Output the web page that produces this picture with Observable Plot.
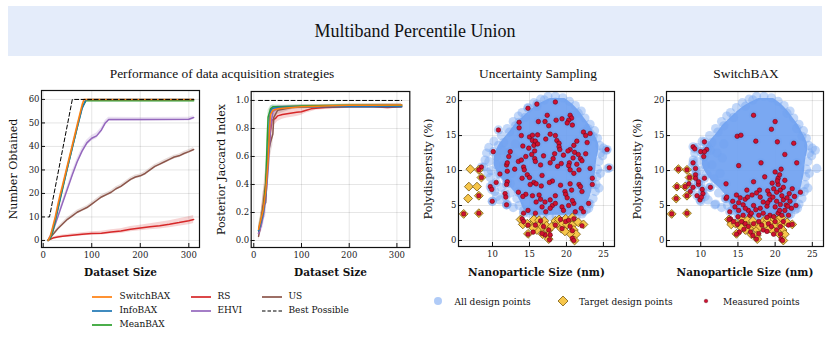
<!DOCTYPE html>
<html><head><meta charset="utf-8">
<script src="https://cdn.jsdelivr.net/npm/d3@7"></script>
<script src="https://cdn.jsdelivr.net/npm/@observablehq/plot@0.6"></script>
<style>
html,body{margin:0;padding:0;background:#fff;}
#root{position:relative;width:830px;height:338px;overflow:hidden;}
.abs{position:absolute;}
#banner{left:8px;top:6px;width:814px;height:50px;background:#e4ecfa;}
#title{position:absolute;left:0;top:0;width:100%;height:100%;display:flex;align-items:center;justify-content:center;font-family:"Liberation Serif",serif;font-size:18px;color:#111;}
.sub{font-family:"Liberation Serif",serif;font-size:13.4px;color:#111;transform:translate(-50%,-50%);white-space:nowrap;}
.leg{font-family:"DejaVu Serif",serif;font-size:9px;color:#111;white-space:nowrap;transform:translateY(-50%);}
.sw{transform:translate(-50%,-50%);}
</style></head>
<body><div id="root"></div>
<script>
// ---------- DATA ----------
const figureTitle = "Multiband Percentile Union";
const panelTitles = ["Performance of data acquisition strategies", "Uncertainty Sampling", "SwitchBAX"];
const seriesNames = ["SwitchBAX","InfoBAX","MeanBAX","RS","EHVI","US"];
const seriesColors = ["#ff7f0e","#1f77b4","#2ca02c","#d62728","#9467bd","#8c564b"];
const drawOrder = ["RS","US","EHVI","MeanBAX","InfoBAX","SwitchBAX"];
const bestLabel = "Best Possible";
const scatterLegend = ["All design points","Target design points","Measured points"];

// Panel 1: Number Obtained  [datasetSize, value, spread]
const numSwitchBAX = [[10,0,0.2],[15,2,0.5],[20,6,0.8],[25,10,1],[30,15,1],[35,19.5,1],[40,23.5,1],[50,32,1],[60,40.5,1],[70,49,1],[80,57.5,0.8],[84,60,0.2],[120,60,0],[200,60,0],[310,60,0]];
const numInfoBAX = [[10,0,0.2],[15,1.5,0.5],[20,5,0.8],[25,9,1],[30,13.5,1],[35,18,1],[40,22.5,1],[50,31,1],[60,39.5,1],[70,48,1],[80,56,0.8],[87,59.5,0.3],[92,60,0],[200,60,0],[310,60,0]];
const numMeanBAX = [[10,0,0.2],[15,1,0.5],[20,4,0.8],[25,8.5,1],[30,13,1],[35,17.5,1],[40,22,1],[50,31,1],[60,39.5,1],[70,48,1],[80,56.5,0.8],[88,59.4,0.3],[200,59.4,0.2],[310,59.4,0.2]];
const numRS = [[10,0,0.2],[20,1,0.4],[30,1.5,0.5],[40,1.8,0.5],[60,2.2,0.6],[80,2.6,0.7],[100,3,0.7],[120,3.1,0.8],[140,3.6,0.9],[160,4,1],[180,4.8,1.1],[200,5.3,1.2],[220,5.8,1.3],[240,6.3,1.4],[260,6.9,1.5],[280,7.6,1.6],[300,8.4,1.7],[310,8.9,1.7]];
const numEHVI = [[10,0,0.3],[20,4,0.8],[30,10,1],[40,16,1.2],[50,22,1.3],[60,28,1.4],[70,33.5,1.4],[80,38,1.3],[90,41.5,1.2],[100,43.5,1.2],[110,44.5,1.2],[120,47,1.1],[128,50,1],[135,51.5,0.9],[200,51.5,0.8],[300,51.6,0.8],[310,52.3,0.8]];
const numUS = [[10,0,0.3],[20,2.5,0.5],[30,5,0.6],[40,7,0.7],[50,9,0.8],[60,10.5,0.8],[70,12,0.8],[80,13,0.8],[90,14,0.8],[100,15.5,0.8],[110,17,0.8],[120,18.5,0.8],[130,19.5,0.8],[140,20.5,0.8],[150,22,0.8],[160,23,0.8],[170,24.5,0.8],[180,26,0.8],[190,27,0.8],[200,27.5,0.8],[210,28.5,0.8],[220,30,0.8],[230,31.5,0.8],[240,32.5,0.8],[250,33.5,0.8],[260,34.5,0.8],[270,35.5,0.8],[280,36,0.8],[290,37,0.8],[300,37.8,0.8],[310,38.7,0.8]];
const numBest = [[10,10],[13,10],[60,60],[310,60]];

// Panel 2: Posterior Jaccard Index  [datasetSize, value, spread]
const jacSwitchBAX = [[10,0.08,0.03],[15,0.15,0.05],[20,0.22,0.08],[25,0.35,0.1],[30,0.57,0.1],[33,0.8,0.06],[35,0.9,0.04],[40,0.93,0.02],[50,0.94,0.015],[60,0.945,0.01],[80,0.95,0.01],[100,0.955,0.01],[150,0.96,0.01],[200,0.965,0.01],[250,0.965,0.01],[310,0.967,0.01]];
const jacInfoBAX = [[10,0.07,0.03],[15,0.13,0.05],[20,0.2,0.08],[25,0.33,0.1],[30,0.6,0.1],[33,0.88,0.05],[36,0.93,0.03],[40,0.945,0.02],[50,0.95,0.01],[100,0.955,0.01],[200,0.955,0.01],[310,0.955,0.01]];
const jacMeanBAX = [[10,0.07,0.03],[15,0.14,0.05],[20,0.22,0.08],[25,0.4,0.1],[28,0.7,0.1],[30,0.88,0.05],[35,0.94,0.02],[40,0.955,0.015],[60,0.955,0.01],[100,0.96,0.01],[200,0.965,0.01],[310,0.965,0.01]];
const jacRS = [[10,0.05,0.03],[15,0.12,0.06],[20,0.25,0.1],[25,0.4,0.12],[30,0.6,0.12],[35,0.78,0.08],[38,0.86,0.05],[45,0.87,0.04],[50,0.89,0.04],[60,0.9,0.035],[70,0.905,0.03],[80,0.91,0.03],[90,0.915,0.03],[100,0.92,0.025],[110,0.93,0.02],[120,0.94,0.02],[130,0.945,0.015],[150,0.95,0.015],[200,0.955,0.01],[250,0.955,0.01],[280,0.95,0.01],[310,0.955,0.01]];
const jacEHVI = [[10,0.05,0.03],[15,0.1,0.05],[20,0.18,0.08],[25,0.3,0.1],[30,0.5,0.12],[35,0.8,0.08],[40,0.92,0.03],[50,0.945,0.02],[80,0.955,0.01],[150,0.96,0.01],[310,0.97,0.01]];
const jacUS = [[10,0.03,0.03],[15,0.12,0.06],[20,0.25,0.1],[25,0.27,0.1],[30,0.62,0.12],[35,0.7,0.1],[40,0.76,0.08],[42,0.88,0.05],[50,0.93,0.03],[80,0.95,0.015],[150,0.96,0.01],[310,0.96,0.01]];
const jacBest = [[10,1],[310,1]];

// Tick values
const sizeTicks = [0,100,200,300];
const numTicks = [0,10,20,30,40,50,60];
const jacTicks = [0,0.2,0.4,0.6,0.8,1.0];
const npTicks = [10,15,20,25];
const pdTicks = [0,5,10,15,20];

// All design points: dense core envelope [polydispersity, left size, right size]
const cloudCore = [[3.6,15,21.6],[4.5,14.2,22.4],[5.5,13.8,22.9],[6.5,13.3,23.3],[7.5,12.5,23.5],[8.5,11.5,23.7],[9.5,10.8,23.9],[10.5,10.3,24.0],[11.5,10.2,24.1],[12.5,10.4,24.3],[13.5,10.8,24.4],[14.5,11.5,24.1],[15.5,12.3,23.6],[16.5,13.0,23.1],[17.5,14.0,22.4],[18.5,15.0,21.7],[19.5,16.3,20.8],[20.3,17.8,19.8]];
// All design points: sparse individual points around the core [size, polydispersity]
const cloudFringe = [[8.8,10.5],[9.0,11.5],[9.2,12.5],[9.5,13.3],[9.8,10],[9.7,9],[10,8],[10.3,7],[10.6,6.3],[11,5.8],[12,5.2],[12.8,4.7],[10.5,12],[10.2,14.2],[10.8,13.6],[11.2,15],[11.5,14],[12,16],[12.3,15.5],[12.8,17],[13.5,17.8],[14,18.3],[14.8,19],[15.6,19.7],[16.5,20.2],[17.5,20.6],[18.5,20.6],[19.5,20.4],[20.4,19.9],[21.2,19.3],[22,18.5],[22.5,17.5],[23.2,16.6],[23.8,15.7],[24.2,14.6],[24.5,13.6],[25,13.2],[24.6,12.5],[24.4,11.3],[24.2,10.2],[24.1,9.1],[24,8],[23.9,7],[23.6,6],[23.2,5.2],[22.7,4.4],[22.1,3.8],[21.3,3.4],[20.4,3.3],[19.5,3.4],[18.6,3.5],[17.7,3.5],[16.8,3.5],[15.9,3.6],[15,3.9],[14.2,4.3],[13.6,5],[13.3,6],[12.4,6.8],[11.2,7.6],[11.8,8.8],[10.8,9.5],[12.6,9.6],[11.5,10.8],[9.5,11.3],[12.2,12.5],[13.1,13.8],[12.9,11.8],[25.6,10.3],[10.0,5.6],[11.9,5.1],[25.4,12.9],
 [13.1,16.4],[14.4,17.6],[16.0,19.2],[17.0,20.1],[21.6,18.2],[22.9,16.0],[23.6,14.9],[24.9,12.1],[24.6,9.6],[24.4,7.5],[23.0,4.6],[21.8,4.2],[12.4,8.1],[11.3,12.9],[10.6,10.8],[9.4,9.7]];
// Target design points [size, polydispersity]
const targets = [[7.0,10.2],[8.15,10.1],[8.5,9.0],[6.8,7.7],[7.9,7.7],[6.7,6.0],[8.15,6.4],[6.1,3.8],[8.15,3.9],
 [13.8,3.0],[14.1,2.3],[14.8,0.95],[15.3,2.3],[15.6,3.0],[16.3,2.9],[16.2,2.1],[16.6,1.8],[16.0,1.5],[17.0,2.8],[17.3,2.1],[16.8,0.9],[17.6,1.5],[17.5,0.7],[18.0,2.0],[18.5,2.8],[18.7,2.4],[19.0,3.0],[19.3,1.7],[19.5,2.4],[19.9,3.1],[20.1,2.3],[20.5,2.9],[20.8,2.2],[21.0,1.5],[21.3,0.9],[21.1,0.0],[21.6,2.6],[22.3,2.3],[20.5,1.0],[19.8,1.3],[17.6,0.2],[15.5,1.8],[14.7,2.4],[20.8,3.3]];
// Uncertainty Sampling measured points [size, polydispersity]
const usMeasured = [[18.5,19.8],[16.0,19.5],[14.8,18.9],[17.4,17.9],[16.2,17.0],[17.1,17.0],[18.6,17.2],[19.4,17.4],[20.5,17.9],[20.7,17.5],[20.3,17.2],[20.1,16.8],[13.6,16.9],[13.6,16.1],[10.8,15.8],[13.9,15.0],[15.0,14.8],[15.4,15.05],[16.1,15.1],[17.8,15.2],[15.4,14.3],[15.8,14.2],[17.2,14.5],[18.5,15.0],[18.7,14.3],[19.0,13.9],[19.0,13.4],[19.1,13.0],[18.4,12.4],[18.2,11.7],[17.8,11.1],[14.9,13.2],[15.6,13.6],[15.7,12.8],[15.3,12.3],[15.7,11.7],[16.9,12.1],[15.8,11.3],[22.3,15.5],[23.2,15.3],[21.4,14.2],[22.8,14.0],[21.0,13.6],[20.5,13.0],[20.2,12.8],[21.1,12.6],[21.6,12.3],[21.9,11.7],[20.4,11.1],[22.1,11.4],[21.4,10.9],[25.5,13.0],[25.8,10.4],[10.1,12.7],[12.4,12.7],[12.2,12.0],[13.5,11.3],[13.9,11.5],[14.2,10.5],[11.9,10.8],[20.3,10.7],[23.2,10.3],[8.5,10.5],
 [17.6,16.4],[20.8,16.5],[22.6,15.0],[19.6,12.2],[20.9,11.8],[14.5,12.0],[16.5,10.8],[19.3,11.0],[22.6,12.4],[13.0,10.2],[12.0,9.9],[18.8,10.6],[21.7,10.1],[16.1,13.8],[14.1,13.5],[12.0,11.1],[11.0,9.5],
 [10.5,8.3],[9.7,7.7],[9.96,5.6],[12.0,8.4],[11.9,8.0],[11.7,6.7],[11.8,6.2],[14.0,8.9],[14.3,10.1],[14.7,9.4],[15.6,8.3],[15.9,8.1],[15.1,8.0],[16.6,7.8],[16.7,9.3],[18.1,8.5],[17.7,8.3],[19.2,7.9],[20.5,10.1],[21.0,9.6],[20.5,8.1],[21.7,8.0],[21.9,7.7],[23.5,8.9],[23.5,8.0],[19.8,7.0],[19.9,6.6],[20.1,6.1],[20.7,7.2],[22.1,7.0],[13.5,6.9],[14.5,6.6],[15.4,6.4],[16.3,6.5],[16.5,5.9],[15.9,5.5],[17.1,5.5],[17.8,5.8],[18.1,5.0],[17.8,4.6],[16.7,4.8],[17.2,4.1],[18.5,5.3],[15.8,3.9],[14.8,4.3],[14.2,3.9],[19.4,4.8],[19.6,4.3],[20.3,5.0],[21.0,5.3],[22.0,4.6],[21.2,4.1],[23.0,5.3],[22.3,4.1],[11.9,5.1],[9.9,7.3],[14.1,6.3],[15.0,9.0],[18.5,6.4],[20.8,5.7]];
const usMeasuredTargets = [[14.0,3.1],[14.2,2.7],[14.8,2.2],[14.8,0.9],[15.8,2.2],[16.5,2.8],[16.9,2.0],[17.6,1.5],[17.1,0.8],[17.8,0.8],[17.7,0.1],[18.5,2.2],[19.4,1.7],[19.9,2.7],[20.3,2.9],[20.5,2.0],[20.8,1.4],[20.8,0.3],[21.0,3.1],[22.1,2.1],[19.2,3.0],[15.5,1.2],[16.7,1.0],[21.0,0.0],[8.15,10.1],[8.5,9.0],[8.15,6.4],[6.1,3.8],[8.15,3.9]];
// SwitchBAX measured points [size, polydispersity]
const sbMeasured = [[17.1,17.9],[20.0,17.0],[19.5,15.9],[14.9,14.9],[15.4,15.05],[17.4,14.2],[20.3,14.1],[22.5,13.9],[10.5,14.1],[8.97,13.4],[9.2,13.1],[10.8,13.0],[10.0,12.7],[10.5,12.7],[10.4,12.0],[21.3,12.3],[18.1,11.1],[22.9,11.1],[8.97,11.1],[15.1,10.7],[9.3,10.3],[11.3,7.6],[13.4,8.1],[13.4,6.0],
 [9.3,9.4],[8.4,8.1],[8.97,7.6],[8.6,7.0],[9.7,8.0],[10.2,7.3],[9.5,6.4],[9.9,5.8],[10.3,6.7],[10.5,8.9],[9.7,8.4],[9.3,8.9],[10.1,6.2],
 [13.5,6.2],[15.1,5.4],[15.98,5.9],[16.2,7.2],[16.9,6.5],[17.1,8.4],[17.9,7.2],[18.0,6.2],[18.4,5.5],[19.2,6.6],[19.3,5.8],[19.8,7.4],[20.4,8.9],[20.4,8.0],[20.7,7.2],[20.2,6.9],[20.9,6.4],[21.1,5.8],[20.7,5.14],[21.5,5.05],[22.0,5.6],[21.9,6.7],[22.2,4.6],[21.3,4.3],[20.0,4.8],[18.9,4.9],[18.0,4.6],[17.1,5.0],[16.4,4.3],[15.7,5.1],[15.1,4.3],[14.6,4.8],[13.9,4.1],[15.7,3.6],[16.6,3.6],[17.8,3.6],[18.4,3.9],[19.3,3.6],[20.4,3.9],[20.9,3.6],[21.8,3.6],
 [20.6,9.4],[20.3,8.5],[19.6,8.2],[21.1,7.6],[19.0,7.1],[17.5,6.8],[16.3,6.2],[14.3,5.6],[19.7,6.2],[21.6,6.1],[22.6,6.3],[20.2,5.6],[19.0,5.4],[17.4,4.4],[16.0,4.6],[21.7,4.9],[22.8,5.0],[23.4,6.9],[22.3,7.4],[14.8,6.5],[18.6,9.1],[20.0,9.8],[21.3,8.6],[20.8,10.2],[15.3,6.1],[16.8,3.9],[20.6,4.3],[19.8,3.4],[18.9,3.3],[15.0,3.4]];
const sbMeasuredTargets = [[7.0,10.2],[8.15,10.1],[8.5,9.0],[6.8,7.7],[7.9,7.7],[6.7,6.0],[8.15,6.4],[6.1,3.8],[8.15,3.9],
 [14.0,3.1],[14.4,2.7],[14.9,2.3],[15.5,2.7],[15.98,2.4],[16.4,2.0],[15.8,1.6],[16.7,1.2],[17.1,2.4],[17.8,2.7],[18.2,2.2],[18.4,1.5],[17.8,1.0],[17.0,0.7],[17.5,0.2],[19.1,2.4],[19.5,2.0],[20.0,2.7],[20.2,1.5],[20.7,2.0],[20.7,0.9],[20.8,0.2],[21.1,2.7],[21.8,2.2],[19.8,0.9],[18.9,1.3],[15.2,1.2],[14.8,0.9],[21.0,0.0],[22.3,2.3],[13.8,3.0]];

// ---------- STYLE ----------
const BLUE = "#6fa1f1", GOLD = "#f7c64a", GOLD_STROKE = "#7a5a10", RED = "#cf1030", RED_STROKE = "#5a0010";
const root = document.getElementById("root");

function place(el, left, top){ const d=document.createElement("div"); d.className="abs"; d.style.left=left+"px"; d.style.top=top+"px"; d.appendChild(el); root.appendChild(d); return d; }
function textAt(txt, cls, left, top){ const d=document.createElement("div"); d.className="abs "+cls; d.style.left=left+"px"; d.style.top=top+"px"; d.textContent=txt; root.appendChild(d); return d; }

// Banner
const banner = document.createElement("div"); banner.id="banner"; banner.className="abs";
const t = document.createElement("div"); t.id="title"; t.textContent = figureTitle; banner.appendChild(t); root.appendChild(banner);
textAt(panelTitles[0], "sub", 222, 73.5);
textAt(panelTitles[1], "sub", 538, 73.5);
textAt(panelTitles[2], "sub", 746, 73.5);

const tables = {
  num: {SwitchBAX:numSwitchBAX, InfoBAX:numInfoBAX, MeanBAX:numMeanBAX, RS:numRS, EHVI:numEHVI, US:numUS},
  jac: {SwitchBAX:jacSwitchBAX, InfoBAX:jacInfoBAX, MeanBAX:jacMeanBAX, RS:jacRS, EHVI:jacEHVI, US:jacUS}
};
function rowsOf(tbl){ return drawOrder.flatMap(s => tbl[s].map(([x,y,sd]) => ({series:s, x, y, lo:y-sd, hi:y+sd}))); }

const baseStyle = {fontFamily:"'DejaVu Serif', serif", fontSize:"8.5px", color:"#222", background:"transparent", overflow:"visible"};

function linePanel({rows, best, xDomain, yDomain, yTicks, yFormat, ylabel, ml, mr, mt, mb, w, h, ylabDx}) {
  return Plot.plot({
    width:w, height:h, marginLeft:ml, marginRight:mr, marginTop:mt, marginBottom:mb,
    style: baseStyle,
    x:{domain:xDomain}, y:{domain:yDomain},
    color:{domain:seriesNames, range:seriesColors},
    marks:[
      Plot.gridX(sizeTicks, {stroke:"#000", strokeOpacity:0.1}),
      Plot.gridY(yTicks, {stroke:"#000", strokeOpacity:0.1}),
      Plot.areaY(rows, {x:"x", y1:"lo", y2:"hi", z:"series", fill:"series", fillOpacity:0.2}),
      Plot.lineY(rows, {x:"x", y:"y", z:"series", stroke:"series", strokeWidth:1.5}),
      Plot.lineY(best, {x:d=>d[0], y:d=>d[1], stroke:"#000", strokeWidth:1, strokeDasharray:"4,2.5"}),
      Plot.frame({stroke:"#111", strokeWidth:1.2}),
      Plot.axisX({ticks:sizeTicks, tickSize:-4, tickPadding:8, label:null, stroke:"#111"}),
      Plot.axisY({ticks:yTicks, tickSize:-4, tickPadding:6, label:null, tickFormat:yFormat, stroke:"#111"}),
      Plot.text([ylabel], {frameAnchor:"left", dx:ylabDx, rotate:-90, fontSize:11, textAnchor:"middle", lineAnchor:"middle", fill:"#111"}),
      Plot.text(["Dataset Size"], {frameAnchor:"bottom", dy:25, fontSize:10.5, fontWeight:"bold", textAnchor:"middle", lineAnchor:"middle", fill:"#111"})
    ]
  });
}

place(linePanel({rows:rowsOf(tables.num), best:numBest, xDomain:[-3.5,322], yDomain:[-3,63.8], yTicks:numTicks, yFormat:d3.format("d"), ylabel:"Number Obtained", ml:41, mr:11, mt:10, mb:33, w:210, h:200, ylabDx:-28}), 0, 80);
place(linePanel({rows:rowsOf(tables.jac), best:jacBest, xDomain:[-5.4,327], yDomain:[-0.05,1.064], yTicks:jacTicks, yFormat:d3.format(".1f"), ylabel:"Posterior Jaccard Index", ml:40.7, mr:10.7, mt:11, mb:33, w:210, h:200, ylabDx:-30}), 210, 80);

function scatterPanel({measured, measuredT, ml, mr, mt, mb, w, h, ylabDx}) {
  return Plot.plot({
    width:w, height:h, marginLeft:ml, marginRight:mr, marginTop:mt, marginBottom:mb,
    style: baseStyle,
    x:{domain:[5.4,26.5]}, y:{domain:[-0.86,21.3]},
    marks:[
      Plot.gridX(npTicks, {stroke:"#000", strokeOpacity:0.1}),
      Plot.gridY(pdTicks, {stroke:"#000", strokeOpacity:0.1}),
      Plot.areaX(cloudCore, {y:d=>d[0], x1:d=>d[1], x2:d=>d[2], fill:BLUE, fillOpacity:0.92, curve:"catmull-rom"}),
      Plot.dot(cloudFringe, {x:d=>d[0], y:d=>d[1], r:4.6, fill:BLUE, fillOpacity:0.42}),
      Plot.dot(measured, {x:d=>d[0], y:d=>d[1], r:4.6, fill:BLUE, fillOpacity:0.42}),
      Plot.dot(targets, {x:d=>d[0], y:d=>d[1], r:4, symbol:"diamond2", fill:GOLD, stroke:GOLD_STROKE, strokeWidth:0.8}),
      Plot.dot(measured, {x:d=>d[0], y:d=>d[1], r:2.3, fill:RED, stroke:RED_STROKE, strokeWidth:0.5}),
      Plot.dot(measuredT, {x:d=>d[0], y:d=>d[1], r:2.3, fill:RED, stroke:RED_STROKE, strokeWidth:0.5}),
      Plot.frame({stroke:"#111", strokeWidth:1.2}),
      Plot.axisX({ticks:npTicks, tickSize:-4, tickPadding:8, label:null, stroke:"#111"}),
      Plot.axisY({ticks:pdTicks, tickSize:-4, tickPadding:6, label:null, stroke:"#111"}),
      Plot.text(["Polydispersity (%)"], {frameAnchor:"left", dx:ylabDx, rotate:-90, fontSize:11, textAnchor:"middle", lineAnchor:"middle", fill:"#111"}),
      Plot.text(["Nanoparticle Size (nm)"], {frameAnchor:"bottom", dy:26, fontSize:10.5, fontWeight:"bold", textAnchor:"middle", lineAnchor:"middle", fill:"#111"})
    ]
  });
}
place(scatterPanel({measured:usMeasured, measuredT:usMeasuredTargets, ml:38, mr:16, mt:11, mb:34, w:210, h:200, ylabDx:-30}), 420, 80);
place(scatterPanel({measured:sbMeasured, measuredT:sbMeasuredTargets, ml:36, mr:7, mt:11, mb:34, w:200, h:200, ylabDx:-29}), 630, 80);

// ---------- LEGENDS ----------
function svgSwatch(inner, w, h){ const ns="http://www.w3.org/2000/svg"; const s=document.createElementNS(ns,"svg"); s.setAttribute("width",w); s.setAttribute("height",h); s.innerHTML=inner; return s; }
function legendLine(color, dashed, cx, cy){
  const sw = svgSwatch(`<line x1="1" y1="4" x2="21" y2="4" stroke="${color}" stroke-width="${dashed?1.2:2}" ${dashed?'stroke-dasharray="3.5,2"':'stroke-opacity="0.85"'}/>`, 22, 8);
  const d = place(sw, cx, cy); d.classList.add("sw");
}
const legCols = [[0,1,2],[3,4],[5]];
const colX = [[102,119.5],[201,217.5],[272,288.5]];
const rowY = [295.5,309.5,323.5];
legCols.forEach((col,ci)=>col.forEach((si,ri)=>{
  legendLine(seriesColors[si], false, colX[ci][0], rowY[ri]);
  textAt(seriesNames[si], "leg", colX[ci][1], rowY[ri]);
}));
legendLine("#000", true, colX[2][0], rowY[1]);
textAt(bestLabel, "leg", colX[2][1], rowY[1]);

const ly = 301.5;
place(svgSwatch(`<circle cx="6" cy="6" r="4" fill="${BLUE}" fill-opacity="0.55"/>`,12,12), 437.5, ly).classList.add("sw");
textAt(scatterLegend[0], "leg", 454.5, ly);
place(svgSwatch(`<path d="M6,1 L11,6 L6,11 L1,6 Z" fill="${GOLD}" stroke="${GOLD_STROKE}" stroke-width="0.8"/>`,12,12), 562.5, ly).classList.add("sw");
textAt(scatterLegend[1], "leg", 579, ly);
place(svgSwatch(`<circle cx="6" cy="6" r="1.8" fill="${RED}" stroke="${RED_STROKE}" stroke-width="0.4"/>`,12,12), 705.5, ly).classList.add("sw");
textAt(scatterLegend[2], "leg", 723, ly);
</script>
</body></html>
